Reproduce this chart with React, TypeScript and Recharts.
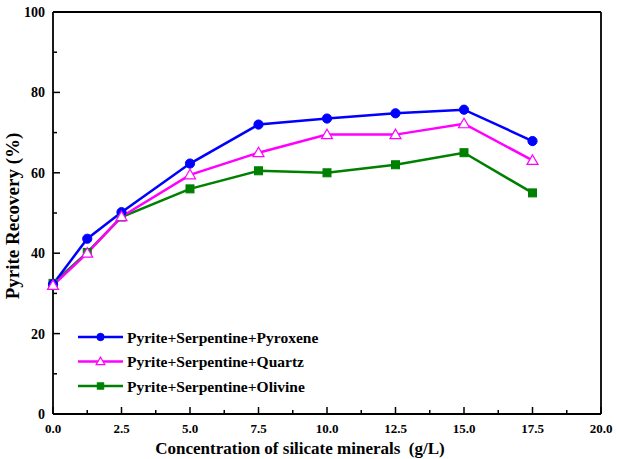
import React from "react";
import { Line, LineChart, ReferenceLine, XAxis, YAxis } from "recharts";

const concentration = [0, 1.25, 2.5, 5, 7.5, 10, 12.5, 15, 17.5];
const pyroxene = [32.3, 43.6, 50.2, 62.3, 72, 73.5, 74.8, 75.7, 67.9];
const quartz = [32, 40, 49.1, 59.5, 65, 69.5, 69.5, 72.2, 63.1];
const olivine = [32.5, 40.2, 49, 56, 60.5, 60, 62, 65, 55];

const xTicks = [0, 1.25, 2.5, 3.75, 5, 6.25, 7.5, 8.75, 10, 11.25, 12.5, 13.75, 15, 16.25, 17.5, 18.75, 20];
const yTicks = [0, 10, 20, 30, 40, 50, 60, 70, 80, 90, 100];

const seriesNames = [
  "Pyrite+Serpentine+Pyroxene",
  "Pyrite+Serpentine+Quartz",
  "Pyrite+Serpentine+Olivine",
];

const data = concentration.map((c, i) => ({
  c,
  pyroxene: pyroxene[i],
  quartz: quartz[i],
  olivine: olivine[i],
}));

const FONT = "Liberation Serif, serif";
const BLUE = "#0000ff";
const MAGENTA = "#ff00ff";
const GREEN = "#008000";

const textStyle = { fontFamily: FONT, fontWeight: 700, fill: "#000" } as const;

function Marker({ kind, cx, cy, color, s = 1 }: { kind: string; cx: number; cy: number; color: string; s?: number }) {
  if (kind === "circle") return <circle cx={cx} cy={cy} r={4.6 * s} fill={color} stroke={color} />;
  if (kind === "square")
    return <rect x={cx - 4 * s} y={cy - 4 * s} width={8 * s} height={8 * s} fill={color} stroke={color} />;
  return (
    <polygon
      points={`${cx},${cy - 5.5 * s} ${cx - 5.5 * s},${cy + 4 * s} ${cx + 5.5 * s},${cy + 4 * s}`}
      fill="#fff"
      stroke={color}
      strokeWidth={1.2}
    />
  );
}

const dotFor = (kind: string, color: string) => (p: any) =>
  p.cx == null ? <g key={p.index} /> : <Marker key={p.index} kind={kind} cx={p.cx} cy={p.cy} color={color} />;

function XTick(props: any) {
  const { x, y, payload } = props;
  const v = payload.value as number;
  const major = Math.abs(v / 2.5 - Math.round(v / 2.5)) < 1e-6;
  return (
    <g>
      <line x1={x} x2={x} y1={y} y2={y - (major ? 7 : 4)} stroke="#000" strokeWidth={1.5} />
      {major && (
        <text x={x} y={y + 19} textAnchor="middle" style={{ ...textStyle, fontSize: 13 }}>
          {v.toFixed(1)}
        </text>
      )}
    </g>
  );
}

function YTick(props: any) {
  const { x, y, payload } = props;
  const v = payload.value as number;
  const major = v % 20 === 0;
  return (
    <g>
      <line x1={x} x2={x + (major ? 7 : 4)} y1={y} y2={y} stroke="#000" strokeWidth={1.5} />
      {major && (
        <text x={x - 8} y={y + 5} textAnchor="end" style={{ ...textStyle, fontSize: 14 }}>
          {v}
        </text>
      )}
    </g>
  );
}

function LegendBox() {
  const rows = [
    { name: seriesNames[0], color: BLUE, kind: "circle" },
    { name: seriesNames[1], color: MAGENTA, kind: "triangle" },
    { name: seriesNames[2], color: GREEN, kind: "square" },
  ];
  return (
    <svg width={280} height={80} style={{ position: "absolute", left: 76, top: 325 }}>
      {rows.map((r, i) => {
        const cy = 12 + i * 24.5;
        return (
          <g key={r.name}>
            <line x1={2} x2={47} y1={cy} y2={cy} stroke={r.color} strokeWidth={2.5} />
            <Marker kind={r.kind} cx={24.5} cy={cy} color={r.color} s={0.8} />
            <text x={51} y={cy + 5.5} style={{ ...textStyle, fontSize: 15.5 }}>
              {r.name}
            </text>
          </g>
        );
      })}
    </svg>
  );
}

export default function App() {
  return (
    <div style={{ position: "absolute", left: 0, top: 0, width: 617, height: 459, background: "#fff" }}>
      <LineChart width={617} height={459} data={data} margin={{ top: 12, right: 16, bottom: 0, left: 0 }}>
        <XAxis
          dataKey="c"
          type="number"
          domain={[0, 20]}
          ticks={xTicks}
          interval={0}
          tickSize={0}
          tickMargin={0}
          tickLine={false}
          tick={<XTick />}
          height={45}
          axisLine={{ stroke: "#000", strokeWidth: 1.8 }}
        />
        <YAxis
          type="number"
          domain={[0, 100]}
          ticks={yTicks}
          interval={0}
          tickSize={0}
          tickMargin={0}
          tickLine={false}
          tick={<YTick />}
          width={53}
          axisLine={{ stroke: "#000", strokeWidth: 1.8 }}
        />
        <ReferenceLine y={100} stroke="#000" strokeWidth={1.8} />
        <ReferenceLine x={20} stroke="#000" strokeWidth={1.8} />
        <Line
          dataKey="olivine"
          name={seriesNames[2]}
          stroke={GREEN}
          strokeWidth={2.5}
          dot={dotFor("square", GREEN)}
          isAnimationActive={false}
        />
        <Line
          dataKey="pyroxene"
          name={seriesNames[0]}
          stroke={BLUE}
          strokeWidth={2.5}
          dot={dotFor("circle", BLUE)}
          isAnimationActive={false}
        />
        <Line
          dataKey="quartz"
          name={seriesNames[1]}
          stroke={MAGENTA}
          strokeWidth={2.5}
          dot={dotFor("triangle", MAGENTA)}
          isAnimationActive={false}
        />
      </LineChart>
      <svg width={617} height={459} style={{ position: "absolute", left: 0, top: 0, pointerEvents: "none" }}>
        <text x={300} y={454} textAnchor="middle" style={{ ...textStyle, fontSize: 17, whiteSpace: "pre" }}>
          {"Concentration of silicate minerals  (g/L)"}
        </text>
        <text
          x={0}
          y={0}
          transform="translate(19 216) rotate(-90)"
          textAnchor="middle"
          style={{ ...textStyle, fontSize: 19 }}
        >
          Pyrite Recovery (%)
        </text>
      </svg>
      <LegendBox />
    </div>
  );
}
